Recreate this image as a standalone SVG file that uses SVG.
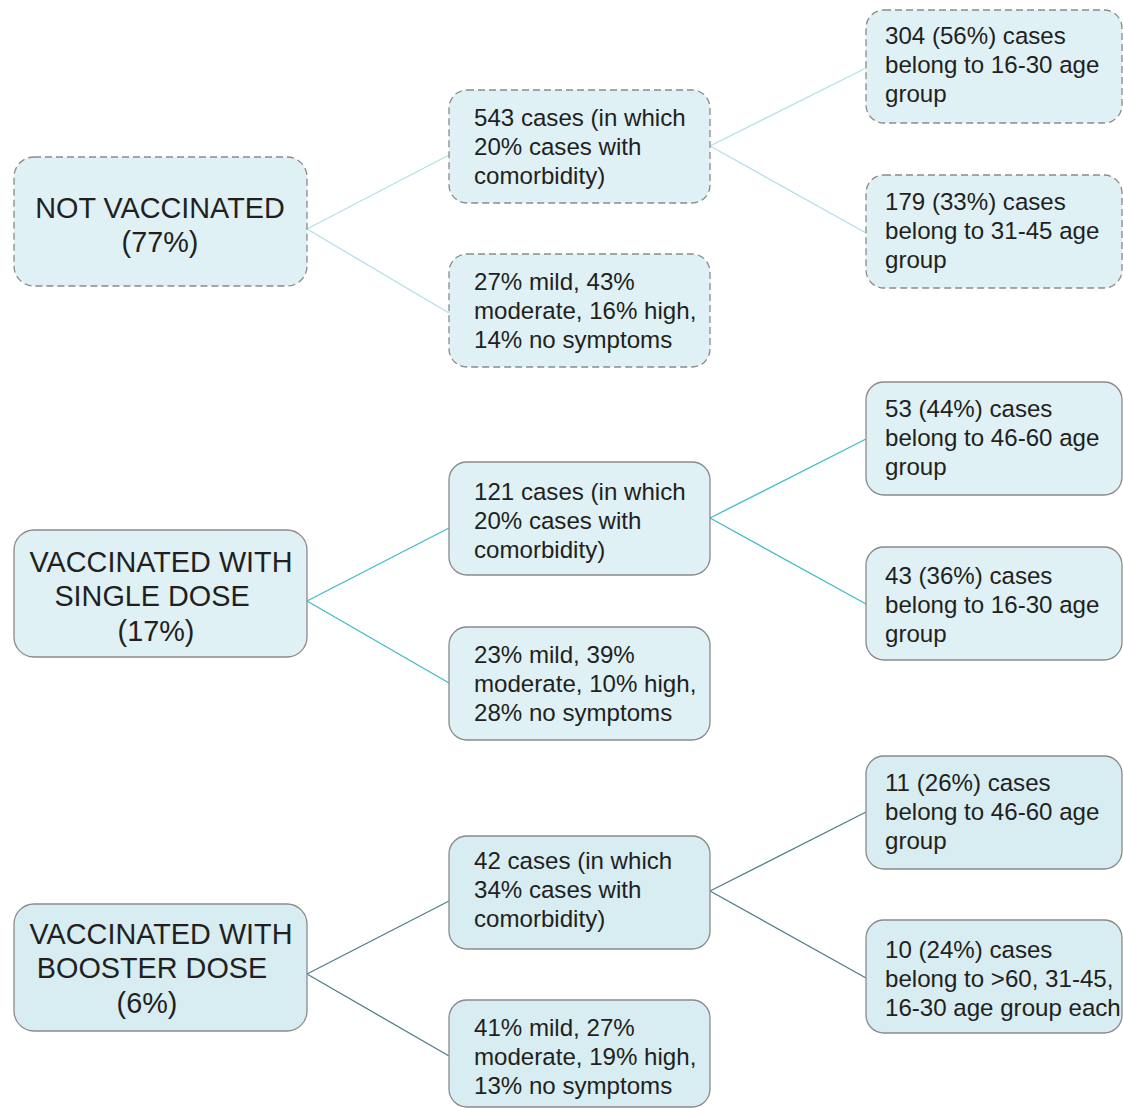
<svg xmlns="http://www.w3.org/2000/svg" width="1123" height="1108" viewBox="0 0 1123 1108">
<style>
.box{fill:#dff1f5;stroke:#8a8a8a;stroke-width:1.3}
.dash{stroke-dasharray:7 4}
.b3{fill:#d7edf2}
.t{font-family:"Liberation Sans",Arial,sans-serif;font-size:24.1px;fill:#231f20}
.r{font-family:"Liberation Sans",Arial,sans-serif;font-size:28.8px;fill:#231f20;text-anchor:middle}
.c1{stroke:#b3e0e8;stroke-width:1.3;fill:none}
.c2{stroke:#3fbccb;stroke-width:1.3;fill:none}
.c3{stroke:#4f8088;stroke-width:1.3;fill:none}
</style>
<rect width="1123" height="1108" fill="#ffffff"/>
<g id="connectors">
<path class="c1" d="M307 229 L449 155 M307 229 L449 313 M710 146 L866 68 M710 146 L866 233"/>
<path class="c2" d="M307 601 L449 528 M307 601 L449 683 M710 518 L866 439 M710 518 L866 604"/>
<path class="c3" d="M307 974 L449 901 M307 974 L449 1056 M710 891 L866 812 M710 891 L866 978"/>
</g>
<g id="not-vaccinated">
<rect class="box dash" x="14" y="157" width="293" height="129" rx="20"/>
<text class="r" x="160" y="218">NOT VACCINATED</text>
<text class="r" x="160" y="252">(77%)</text>
</g>
<g id="nv-cases">
<rect class="box dash" x="449" y="90" width="261" height="113" rx="18"/>
<text class="t" x="474" y="126">543 cases (in which</text>
<text class="t" x="474" y="155">20% cases with</text>
<text class="t" x="474" y="184">comorbidity)</text>
</g>
<g id="nv-symptoms">
<rect class="box dash" x="449" y="254" width="261" height="113" rx="18"/>
<text class="t" x="474" y="290">27% mild, 43%</text>
<text class="t" x="474" y="319">moderate, 16% high,</text>
<text class="t" x="474" y="348">14% no symptoms</text>
</g>
<g id="nv-age1">
<rect class="box dash" x="866" y="10" width="256" height="113" rx="18"/>
<text class="t" x="885" y="44">304 (56%) cases</text>
<text class="t" x="885" y="73">belong to 16-30 age</text>
<text class="t" x="885" y="102">group</text>
</g>
<g id="nv-age2">
<rect class="box dash" x="866" y="175" width="256" height="113" rx="18"/>
<text class="t" x="885" y="210">179 (33%) cases</text>
<text class="t" x="885" y="239">belong to 31-45 age</text>
<text class="t" x="885" y="268">group</text>
</g>
<g id="single-dose">
<rect class="box" x="14" y="530" width="293" height="127" rx="20"/>
<text class="r" x="161" y="572">VACCINATED WITH</text>
<text class="r" x="152" y="606">SINGLE DOSE</text>
<text class="r" x="156" y="641">(17%)</text>
</g>
<g id="sd-cases">
<rect class="box" x="449" y="462" width="261" height="113" rx="18"/>
<text class="t" x="474" y="500">121 cases (in which</text>
<text class="t" x="474" y="529">20% cases with</text>
<text class="t" x="474" y="558">comorbidity)</text>
</g>
<g id="sd-symptoms">
<rect class="box" x="449" y="627" width="261" height="113" rx="18"/>
<text class="t" x="474" y="663">23% mild, 39%</text>
<text class="t" x="474" y="692">moderate, 10% high,</text>
<text class="t" x="474" y="721">28% no symptoms</text>
</g>
<g id="sd-age1">
<rect class="box" x="866" y="382" width="256" height="113" rx="18"/>
<text class="t" x="885" y="417">53 (44%) cases</text>
<text class="t" x="885" y="446">belong to 46-60 age</text>
<text class="t" x="885" y="475">group</text>
</g>
<g id="sd-age2">
<rect class="box" x="866" y="547" width="256" height="113" rx="18"/>
<text class="t" x="885" y="584">43 (36%) cases</text>
<text class="t" x="885" y="613">belong to 16-30 age</text>
<text class="t" x="885" y="642">group</text>
</g>
<g id="booster-dose">
<rect class="box b3" x="14" y="904" width="293" height="127" rx="20"/>
<text class="r" x="161" y="944">VACCINATED WITH</text>
<text class="r" x="152" y="978">BOOSTER DOSE</text>
<text class="r" x="147" y="1013">(6%)</text>
</g>
<g id="bd-cases">
<rect class="box b3" x="449" y="836" width="261" height="113" rx="18"/>
<text class="t" x="474" y="869">42 cases (in which</text>
<text class="t" x="474" y="898">34% cases with</text>
<text class="t" x="474" y="927">comorbidity)</text>
</g>
<g id="bd-symptoms">
<rect class="box b3" x="449" y="1000" width="261" height="107" rx="18"/>
<text class="t" x="474" y="1036">41% mild, 27%</text>
<text class="t" x="474" y="1065">moderate, 19% high,</text>
<text class="t" x="474" y="1094">13% no symptoms</text>
</g>
<g id="bd-age1">
<rect class="box b3" x="866" y="756" width="256" height="113" rx="18"/>
<text class="t" x="885" y="791">11 (26%) cases</text>
<text class="t" x="885" y="820">belong to 46-60 age</text>
<text class="t" x="885" y="849">group</text>
</g>
<g id="bd-age2">
<rect class="box b3" x="866" y="920" width="256" height="113" rx="18"/>
<text class="t" x="885" y="958">10 (24%) cases</text>
<text class="t" x="885" y="987">belong to &gt;60, 31-45,</text>
<text class="t" x="885" y="1016">16-30 age group each</text>
</g>
</svg>
